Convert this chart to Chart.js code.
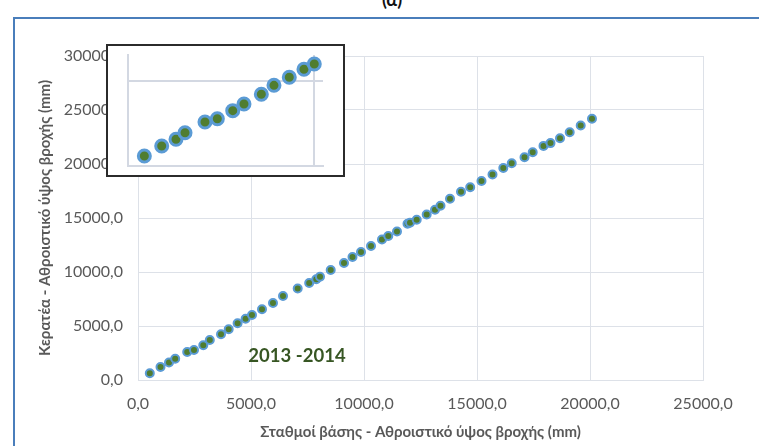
<!DOCTYPE html>
<html>
<head>
<meta charset="utf-8">
<script src="https://cdn.jsdelivr.net/npm/chart.js@4/dist/chart.umd.min.js"></script>
<style>
  html, body { margin: 0; padding: 0; background: #ffffff; }
  body { width: 759px; height: 446px; position: relative; overflow: hidden; font-family: Lato, "Open Sans", sans-serif; }
  #frame { position: absolute; left: 13px; top: 17px; width: 800px; height: 460px;
           border-left: 2px solid #4a7ebb; border-top: 2px solid #4a7ebb; }
  #panel { position: absolute; left: 0; top: -10px; width: 784px; text-align: center;
           font: bold 18px/18px Lato, sans-serif; color: #111; }
  #main { position: absolute; left: 0; top: 0; }
  #inset { position: absolute; left: 106px; top: 44px; width: 235px; height: 129px;
           border: 2px solid #2b2b2b; background: #ffffff; }
  #insetCanvas { position: absolute; left: 0; top: 0; }
</style>
</head>
<body>
<div id="frame"></div>
<div id="panel">(α)</div>
<canvas id="main" width="759" height="446"></canvas>
<div id="inset"><canvas id="insetCanvas" width="235" height="129"></canvas></div>
<script>
// Cumulative rainfall: base stations (x) vs. Keratea (y), mm
const baseStations = [522, 996, 1372, 1646, 2177, 2478, 2889, 3177, 3673, 4013,
  4407, 4761, 5044, 5487, 5973, 6416, 7066, 7575, 7889, 8053,
  8527, 9115, 9491, 9867, 10310, 10796, 11075, 11460, 11925, 12035,
  12332, 12774, 13142, 13385, 13805, 14292, 14699, 15199, 15686, 16164,
  16536, 17102, 17465, 17943, 18252, 18673, 19102, 19589, 20088];
const keratea = [620, 1204, 1620, 1972, 2593, 2778, 3222, 3704, 4231, 4694,
  5250, 5676, 6019, 6556, 7130, 7778, 8472, 8981, 9324, 9565,
  10185, 10833, 11389, 11852, 12407, 13009, 13333, 13750, 14472, 14565,
  14843, 15324, 15769, 16130, 16787, 17426, 17843, 18426, 19028, 19630,
  20065, 20620, 21093, 21676, 21935, 22389, 22935, 23565, 24185];

const xTicks = [0, 5000, 10000, 15000, 20000, 25000];
const yTicks = [0, 5000, 10000, 15000, 20000, 25000, 30000];

const xTitle = 'Σταθμοί βάσης - Αθροιστικό ύψος βροχής (mm)';
const yTitle = 'Κερατέα - Αθροιστικό ύψος βροχής (mm)';
const periodLabel = '2013 -2014';
const periodAt = [7035, 2222];

// Close-up of a stretch of the double-mass curve (relative units)
const zoomX = [1.76, 3.63, 5.17, 6.14, 8.29, 9.62, 11.28, 12.49, 14.36, 15.72, 17.37, 18.95, 20.06];
const zoomY = [1.17, 2.34, 3.13, 3.90, 5.15, 5.54, 6.48, 7.26, 8.40, 9.45, 10.39, 11.33, 11.95];
const zoomXTicks = [0, 20];
const zoomYTicks = [0, 10];

const toPoints = (xs, ys) => xs.map((x, i) => ({ x: x, y: ys[i] }));
const fmt = v => Number(v).toFixed(1).replace('.', ',');

const GRID = '#dde1e8';
const TICK = '#595959';
const GREEN = '#507d30';
const BLUE = '#5b9bd5';

const periodText = {
  id: 'periodText',
  afterDatasetsDraw(chart) {
    const { ctx, scales } = chart;
    ctx.save();
    ctx.font = 'bold 18.5px Lato, sans-serif';
    ctx.fillStyle = '#375623';
    ctx.textAlign = 'center';
    ctx.textBaseline = 'middle';
    ctx.fillText(periodLabel, scales.x.getPixelForValue(periodAt[0]), scales.y.getPixelForValue(periodAt[1]));
    ctx.restore();
  }
};

new Chart(document.getElementById('main'), {
  type: 'scatter',
  data: {
    datasets: [{
      data: toPoints(baseStations, keratea),
      pointRadius: 4,
      pointBorderWidth: 2,
      pointBackgroundColor: GREEN,
      pointBorderColor: BLUE,
      pointHoverRadius: 4,
      clip: false
    }]
  },
  options: {
    responsive: false,
    animation: false,
    devicePixelRatio: 1,
    layout: { padding: { left: 33, top: 56, right: 56, bottom: 0 } },
    plugins: { legend: { display: false }, tooltip: { enabled: false } },
    scales: {
      x: {
        type: 'linear', min: 0, max: 25000,
        afterBuildTicks: s => { s.ticks = xTicks.map(v => ({ value: v })); },
        afterFit: s => { s.height = 66; },
        grid: { color: GRID, lineWidth: 1, drawTicks: false },
        border: { color: GRID, width: 1 },
        ticks: { callback: fmt, color: TICK, font: { family: 'Lato', size: 16 }, padding: 14, maxRotation: 0 },
        title: { display: true, text: xTitle, color: TICK, font: { family: 'Lato', size: 15, weight: 'bold' }, padding: { top: 0, bottom: 5 } }
      },
      y: {
        type: 'linear', min: 0, max: 30000,
        afterBuildTicks: s => { s.ticks = yTicks.map(v => ({ value: v })); },
        afterFit: s => { s.width = 105; },
        grid: { color: GRID, lineWidth: 1, drawTicks: false },
        border: { color: GRID, width: 1 },
        ticks: { callback: fmt, color: TICK, font: { family: 'Lato', size: 16 }, padding: 15 },
        title: { display: true, text: yTitle, color: TICK, font: { family: 'Lato', size: 15, weight: 'bold' }, padding: { top: 3, bottom: 0 } }
      }
    }
  },
  plugins: [periodText]
});

new Chart(document.getElementById('insetCanvas'), {
  type: 'scatter',
  data: {
    datasets: [{
      data: toPoints(zoomX, zoomY),
      pointRadius: 6,
      pointBorderWidth: 3,
      pointBackgroundColor: GREEN,
      pointBorderColor: BLUE,
      pointHoverRadius: 6,
      clip: false
    }]
  },
  options: {
    responsive: false,
    animation: false,
    devicePixelRatio: 1,
    layout: { padding: { left: 20, top: 9, right: 20, bottom: 9 } },
    plugins: { legend: { display: false }, tooltip: { enabled: false } },
    scales: {
      x: {
        type: 'linear', min: 0, max: 21,
        afterBuildTicks: s => { s.ticks = zoomXTicks.map(v => ({ value: v })); },
        grid: { color: '#d3d8e2', lineWidth: 2, drawTicks: false },
        border: { color: '#d3d8e2', width: 2 },
        ticks: { display: false }
      },
      y: {
        type: 'linear', min: 0, max: 13,
        afterBuildTicks: s => { s.ticks = zoomYTicks.map(v => ({ value: v })); },
        grid: { color: '#d3d8e2', lineWidth: 2, drawTicks: false },
        border: { color: '#d3d8e2', width: 2 },
        ticks: { display: false }
      }
    }
  }
});
</script>
</body>
</html>
